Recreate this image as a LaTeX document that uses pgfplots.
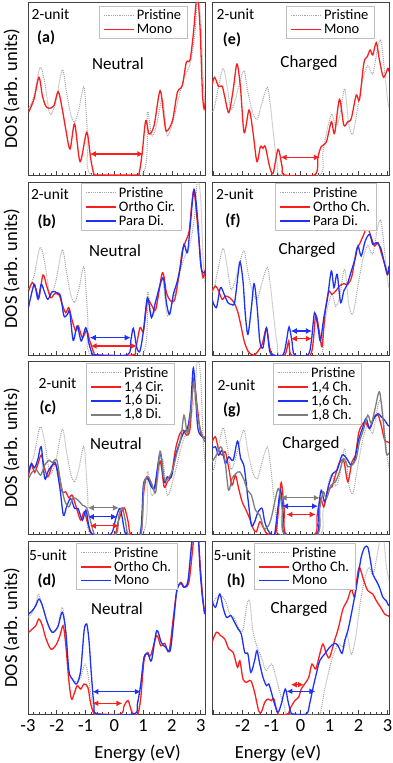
\documentclass[border=0pt]{standalone}
\usepackage{fontspec}
\setmainfont{Carlito}
\usepackage{pgfplots}
\usepackage{pgfplotstable}
\pgfplotsset{compat=1.18}
\usetikzlibrary{arrows.meta}

\definecolor{myred}{RGB}{250,30,30}
\definecolor{myblue}{RGB}{30,50,245}
\definecolor{mygray}{RGB}{125,125,125}
\definecolor{prisgray}{RGB}{165,165,165}

\newcommand\legfont{\fontsize{14.5}{16.5}\selectfont}
\newcommand\unitfont{\fontsize{15.5}{17}\selectfont}
\newcommand\panfont{\fontsize{16}{18}\selectfont\bfseries}
\newcommand\statefont{\fontsize{17}{19}\selectfont}
\newcommand\labfont{\fontsize{18.5}{21}\selectfont}

% legend entries, drawn with explicit styles
\newcommand\legP{\addlegendimage{color=prisgray, densely dotted, line width=1.2pt}\addlegendentry{Pristine}}
\newcommand\legL[2]{\addlegendimage{color=#1, solid, line width=1.6pt}\addlegendentry{#2}}

% pristine DOS, 2-unit neutral (a,b,c)
\pgfplotstableread{
x y
-2.98 198
-2.79 238
-2.58 323
-2.42 278
-2.24 183
-2.04 218
-1.81 316
-1.66 248
-1.52 183
-1.38 158
-1.23 198
-1.05 263
-0.92 108
-0.80 0
0.97 0
1.15 188
1.29 118
1.45 143
1.67 228
1.84 118
2.07 173
2.31 258
2.48 303
2.63 333
2.79 418
2.89 528
3.00 468
3.09 278
3.17 208
}\prisneu

% pristine DOS, 2-unit charged (e,f,g)
\pgfplotstableread{
x y
-3.06 190
-2.99 198
-2.85 258
-2.68 320
-2.56 278
-2.41 198
-2.28 218
-2.10 278
-1.95 313
-1.82 248
-1.64 183
-1.49 168
-1.36 208
-1.15 263
-1.03 198
-0.92 108
-0.80 28
-0.69 0
0.66 0
0.77 68
0.94 146
1.08 183
1.21 146
1.34 173
1.52 258
1.66 153
1.80 123
1.98 208
2.15 288
2.32 328
2.49 303
2.67 388
2.78 400
2.90 308
3.01 218
3.06 200
}\prischg

\pgfplotsset{
  panel/.style={
    scale only axis, width=177pt, height=173pt,
    anchor=north west,
    ymin=0, ymax=519, ytick=\empty,
    xtick={-3,...,3}, minor x tick num=4,
    xtick pos=left, tick align=inside,
    major tick length=4pt, minor tick length=2.5pt,
    xticklabels={},
    axis line style={black!75, line width=0.9pt},
    every tick/.style={black!75, line width=0.7pt},
    clip mode=individual,
    legend cell align=left,
    legend style={draw=black!25, line width=0.9pt, font=\legfont,
      inner xsep=4pt, inner ysep=1.5pt, row sep=-1.5pt, anchor=north west},
    legend image code/.code={\draw[##1] (0pt,0pt) -- (30pt,0pt);},
  },
  lcol/.style={xmin=-3, xmax=3.15},
  rcol/.style={xmin=-3.06, xmax=3.05},
  botl/.style={xticklabels={-3,-2,-1,0,1,2,3}, xticklabel style={font=\labfont}, xticklabel shift=2pt},
  botr/.style={xticklabels={{},-2,-1,0,1,2,3}, xticklabel style={font=\labfont}, xticklabel shift=2pt},
  pris/.style={prisgray, densely dotted, line width=1pt, smooth, tension=0.5, forget plot},
  cur/.style={line width=1.3pt, smooth, tension=0.5, forget plot},
  gap/.style={line width=1.2pt, forget plot, >={Latex[length=6pt,width=6pt]}, <->},
}

\begin{document}
\begin{tikzpicture}
\path[use as bounding box] (0,0) rectangle (392pt,-763pt);

% ---------------- (a)
\begin{axis}[panel, lcol, at={(28pt,-2pt)},
  legend style={at={(axis description cs:0.40,0.977)}}]
\legP \legL{myred}{Mono}
\addplot[pris] table {\prisneu};
\addplot[cur, myred] coordinates {(-2.98,188) (-2.79,228) (-2.62,293) (-2.50,238) (-2.39,208) (-2.27,200) (-2.10,208) (-1.95,250) (-1.81,198) (-1.69,138) (-1.54,78) (-1.38,153) (-1.19,40) (-0.96,128) (-0.82,48) (-0.71,3) (-0.6,0) (0.75,0) (0.86,5) (0.97,68) (1.09,163) (1.21,123) (1.38,148) (1.59,253) (1.73,168) (1.81,131) (2.02,163) (2.19,248) (2.36,268) (2.50,338) (2.63,345) (2.75,428) (2.83,508) (2.89,540) (2.98,438) (3.06,248) (3.12,198) (3.17,228)};
\addplot[gap, myred] coordinates {(-0.85,63) (1.01,63)};
\node[font=\unitfont] at (axis description cs:0.127,0.931) {2-unit};
\node[font=\panfont] at (axis description cs:0.102,0.792) {(a)};
\node[font=\statefont] at (axis description cs:0.508,0.642) {Neutral};
\node[rotate=90, font=\labfont] at (axis description cs:-0.093,0.5) {DOS (arb. units)};
\end{axis}

% ---------------- (e)
\begin{axis}[panel, rcol, at={(212pt,-2pt)},
  legend style={at={(axis description cs:0.418,0.977)}}]
\legP \legL{myred}{Mono}
\addplot[pris] table {\prischg};
\addplot[cur, myred] coordinates {(-3.06,270) (-2.97,293) (-2.83,265) (-2.71,267) (-2.62,235) (-2.48,187) (-2.33,255) (-2.20,333) (-2.08,265) (-1.95,127) (-1.78,195) (-1.64,125) (-1.51,40) (-1.39,85) (-1.30,80) (-1.22,85) (-1.07,25) (-0.95,5) (-0.78,77) (-0.64,25) (-0.55,0) (0.48,0) (0.60,55) (0.71,85) (0.89,100) (1.06,160) (1.17,125) (1.34,227) (1.49,150) (1.63,160) (1.75,170) (1.92,240) (2.03,225) (2.18,335) (2.30,355) (2.40,375) (2.49,360) (2.61,397) (2.72,345) (2.86,293) (3.01,320) (3.05,310)};
\addplot[gap, myred] coordinates {(-0.69,53) (0.66,53)};
\node[font=\unitfont] at (axis description cs:0.133,0.931) {2-unit};
\node[font=\panfont] at (axis description cs:0.113,0.780) {(e)};
\node[font=\statefont] at (axis description cs:0.548,0.647) {Charged};
\end{axis}

% ---------------- (b)
\begin{axis}[panel, lcol, at={(28pt,-182pt)},
  legend style={at={(axis description cs:0.299,0.994)}}]
\legP \legL{myred}{Ortho Cir.} \legL{myblue}{Para Di.}
\addplot[pris] table {\prisneu};
\addplot[cur, myred] coordinates {(-2.98,192) (-2.85,217) (-2.72,197) (-2.62,172) (-2.48,240) (-2.35,207) (-2.21,172) (-2.07,184) (-1.92,180) (-1.81,152) (-1.69,127) (-1.58,142) (-1.46,102) (-1.34,72) (-1.25,87) (-1.11,52) (-0.96,74) (-0.85,42) (-0.71,7) (-0.59,0) (0.63,0) (0.74,17) (0.89,82) (1.01,72) (1.15,162) (1.29,150) (1.44,137) (1.67,247) (1.81,187) (1.96,162) (2.10,167) (2.25,242) (2.36,312) (2.48,342) (2.60,372) (2.69,452) (2.77,492) (2.89,392) (3.00,282) (3.08,232) (3.16,257)};
\addplot[cur, myblue] coordinates {(-2.98,144) (-2.87,187) (-2.77,212) (-2.65,167) (-2.54,212) (-2.42,187) (-2.31,167) (-2.16,190) (-2.00,187) (-1.87,177) (-1.75,117) (-1.63,122) (-1.55,130) (-1.43,44) (-1.29,87) (-1.15,42) (-0.99,82) (-0.88,34) (-0.76,2) (-0.65,0) (0.45,0) (0.57,42) (0.66,80) (0.78,22) (0.89,12) (1.01,72) (1.15,172) (1.29,112) (1.44,162) (1.69,232) (1.81,157) (1.92,122) (2.05,182) (2.19,222) (2.31,272) (2.42,332) (2.54,307) (2.65,402) (2.77,497) (2.89,412) (3.00,272) (3.08,247) (3.15,250)};
\addplot[gap, myblue] coordinates {(-0.85,52) (0.57,52)};
\addplot[gap, myred] coordinates {(-0.82,27) (0.78,27)};
\node[font=\unitfont] at (axis description cs:0.124,0.931) {2-unit};
\node[font=\panfont] at (axis description cs:0.107,0.769) {(b)};
\node[font=\statefont] at (axis description cs:0.492,0.601) {Neutral};
\node[rotate=90, font=\labfont] at (axis description cs:-0.093,0.5) {DOS (arb. units)};
\end{axis}

% ---------------- (f)
\begin{axis}[panel, rcol, at={(212pt,-182pt)},
  legend style={at={(axis description cs:0.356,0.994)}}]
\legP \legL{myred}{Ortho Ch.} \legL{myblue}{Para Di.}
\addplot[pris] table {\prischg};
\addplot[cur, myred] coordinates {(-3.06,192) (-2.94,207) (-2.83,192) (-2.71,167) (-2.60,177) (-2.45,172) (-2.30,157) (-2.18,132) (-2.07,92) (-1.95,42) (-1.82,12) (-1.70,2) (-1.59,0) (-1.47,12) (-1.33,32) (-1.18,80) (-1.07,22) (-0.95,0) (-0.55,0) (-0.41,42) (-0.32,0) (0.34,0) (0.52,117) (0.66,62) (0.74,25) (0.85,132) (0.97,190) (1.08,182) (1.23,194) (1.34,207) (1.49,214) (1.63,212) (1.77,237) (1.92,312) (2.03,332) (2.18,362) (2.30,384) (2.44,352) (2.55,327) (2.67,337) (2.78,307) (2.92,267) (3.01,242) (3.05,262)};
\addplot[cur, myblue] coordinates {(-3.06,167) (-2.91,142) (-2.77,202) (-2.64,182) (-2.51,157) (-2.39,152) (-2.28,157) (-2.16,242) (-2.09,280) (-1.99,222) (-1.91,122) (-1.82,62) (-1.70,142) (-1.61,214) (-1.51,152) (-1.41,42) (-1.30,22) (-1.18,82) (-1.07,12) (-0.95,0) (-0.61,0) (-0.49,42) (-0.40,84) (-0.30,42) (-0.21,0) (0.25,0) (0.37,42) (0.48,127) (0.60,82) (0.68,42) (0.80,112) (0.92,167) (1.06,252) (1.15,202) (1.26,242) (1.38,157) (1.49,192) (1.61,212) (1.75,252) (1.89,292) (1.98,327) (2.09,297) (2.23,342) (2.38,362) (2.49,332) (2.61,337) (2.76,322) (2.90,272) (2.99,242) (3.05,267)};
\addplot[gap, myblue] coordinates {(-0.34,72) (0.39,72)};
\addplot[gap, myred] coordinates {(-0.34,49) (0.39,49)};
\node[font=\unitfont] at (axis description cs:0.130,0.931) {2-unit};
\node[font=\panfont] at (axis description cs:0.119,0.775) {(f)};
\node[font=\statefont] at (axis description cs:0.537,0.607) {Charged};
\end{axis}

% ---------------- (c)
\begin{axis}[panel, lcol, at={(28pt,-361.5pt)},
  legend style={at={(axis description cs:0.328,0.991)}}]
\legP \legL{myred}{1,4 Cir.} \legL{myblue}{1,6 Di.} \legL{mygray}{1,8 Di.}
\addplot[pris] table {\prisneu};
\addplot[cur, myred] coordinates {(-2.98,178) (-2.88,210) (-2.77,186) (-2.65,213) (-2.54,238) (-2.42,198) (-2.31,173) (-2.16,206) (-2.04,210) (-1.92,178) (-1.81,128) (-1.69,128) (-1.58,110) (-1.46,118) (-1.31,78) (-1.17,43) (-1.05,68) (-0.94,38) (-0.82,8) (-0.71,0) (-0.01,0) (0.13,38) (0.34,80) (0.48,38) (0.57,0) (0.92,0) (1.01,118) (1.12,173) (1.26,158) (1.40,138) (1.59,220) (1.73,143) (1.84,158) (1.98,178) (2.13,258) (2.28,303) (2.40,313) (2.51,298) (2.63,318) (2.75,468) (2.86,398) (3.00,303) (3.14,293)};
\addplot[cur, myblue] coordinates {(-2.98,188) (-2.88,213) (-2.77,200) (-2.65,228) (-2.54,263) (-2.42,168) (-2.31,188) (-2.16,208) (-2.04,213) (-1.89,138) (-1.77,58) (-1.66,83) (-1.52,108) (-1.38,78) (-1.26,78) (-1.11,43) (-0.99,73) (-0.88,23) (-0.76,0) (-0.13,0) (0.05,48) (0.20,78) (0.34,18) (0.43,0) (0.89,0) (1.01,148) (1.15,168) (1.29,143) (1.40,143) (1.59,243) (1.73,158) (1.84,173) (1.98,173) (2.13,238) (2.28,278) (2.42,308) (2.54,318) (2.65,378) (2.75,500) (2.89,328) (3.00,298) (3.14,288)};
\addplot[cur, mygray] coordinates {(-2.98,168) (-2.85,188) (-2.70,193) (-2.56,178) (-2.42,208) (-2.27,223) (-2.16,216) (-2.00,223) (-1.87,158) (-1.73,103) (-1.58,83) (-1.43,110) (-1.26,103) (-1.11,88) (-0.96,80) (-0.82,38) (-0.71,3) (-0.61,0) (0.05,0) (0.16,58) (0.28,80) (0.39,38) (0.49,0) (0.92,0) (1.03,148) (1.17,173) (1.32,148) (1.44,128) (1.59,250) (1.73,168) (1.87,168) (2.02,193) (2.17,243) (2.31,288) (2.42,358) (2.54,303) (2.65,363) (2.77,458) (2.89,358) (3.00,313) (3.14,278)};
\addplot[gap, mygray] coordinates {(-0.92,80) (0.16,80)};
\addplot[gap, myblue] coordinates {(-0.92,53) (0.10,53)};
\addplot[gap, myred] coordinates {(-0.85,26) (0.16,26)};
\node[font=\unitfont] at (axis description cs:0.167,0.876) {2-unit};
\node[font=\panfont] at (axis description cs:0.113,0.731) {(c)};
\node[font=\statefont] at (axis description cs:0.497,0.523) {Neutral};
\node[rotate=90, font=\labfont] at (axis description cs:-0.093,0.5) {DOS (arb. units)};
\end{axis}

% ---------------- (g)
\begin{axis}[panel, rcol, at={(212pt,-361.5pt)},
  legend style={at={(axis description cs:0.345,0.991)}}]
\legP \legL{myred}{1,4 Ch.} \legL{myblue}{1,6 Ch.} \legL{mygray}{1,8 Ch.}
\addplot[pris] table {\prischg};
\addplot[cur, myred] coordinates {(-3.06,278) (-2.94,293) (-2.83,253) (-2.71,238) (-2.60,248) (-2.48,198) (-2.37,148) (-2.25,178) (-2.14,138) (-2.02,98) (-1.91,78) (-1.76,48) (-1.64,18) (-1.53,8) (-1.41,38) (-1.30,23) (-1.18,3) (-1.07,0) (-0.87,0) (-0.76,78) (-0.67,156) (-0.57,78) (-0.49,0) (0.48,0) (0.57,58) (0.69,108) (0.80,83) (0.94,133) (1.08,143) (1.20,178) (1.34,216) (1.49,220) (1.63,158) (1.77,218) (1.89,238) (2.00,303) (2.11,328) (2.23,338) (2.38,318) (2.53,353) (2.67,358) (2.78,328) (2.90,283) (3.01,278) (3.05,275)};
\addplot[cur, myblue] coordinates {(-3.06,258) (-2.94,263) (-2.83,238) (-2.71,253) (-2.60,213) (-2.48,233) (-2.33,223) (-2.18,280) (-2.07,228) (-1.95,203) (-1.82,108) (-1.70,28) (-1.59,38) (-1.47,68) (-1.33,78) (-1.24,38) (-1.13,13) (-1.01,0) (-0.90,0) (-0.78,83) (-0.69,133) (-0.60,58) (-0.53,0) (0.54,0) (0.62,78) (0.71,133) (0.83,98) (0.97,148) (1.11,183) (1.26,193) (1.43,238) (1.59,228) (1.74,208) (1.86,223) (2.00,283) (2.15,323) (2.26,348) (2.38,318) (2.53,348) (2.67,363) (2.78,353) (2.90,343) (3.01,328) (3.05,325)};
\addplot[cur, mygray] coordinates {(-3.06,218) (-2.91,238) (-2.76,263) (-2.62,228) (-2.49,133) (-2.37,168) (-2.23,183) (-2.10,188) (-1.95,163) (-1.84,133) (-1.70,118) (-1.56,73) (-1.41,58) (-1.26,18) (-1.10,28) (-0.99,58) (-0.87,108) (-0.76,138) (-0.64,78) (-0.55,0) (0.57,0) (0.66,78) (0.78,128) (0.89,108) (1.05,148) (1.20,158) (1.34,188) (1.49,228) (1.63,203) (1.77,208) (1.92,228) (2.03,278) (2.18,318) (2.32,358) (2.44,333) (2.57,378) (2.72,428) (2.84,348) (2.95,248) (3.01,240) (3.05,245)};
\addplot[gap, mygray] coordinates {(-0.69,110) (0.66,110)};
\addplot[gap, myblue] coordinates {(-0.64,85) (0.60,85)};
\addplot[gap, myred] coordinates {(-0.49,60) (0.52,60)};
\node[font=\unitfont] at (axis description cs:0.138,0.864) {2-unit};
\node[font=\panfont] at (axis description cs:0.113,0.720) {(g)};
\node[font=\statefont] at (axis description cs:0.559,0.523) {Charged};
\end{axis}

% ---------------- (d)
\begin{axis}[panel, lcol, botl, at={(28pt,-541pt)},
  legend style={at={(axis description cs:0.271,0.988)}}]
\legP \legL{myred}{Ortho Ch.} \legL{myblue}{Mono}
\addplot[pris] coordinates {(-2.98,290) (-2.85,305) (-2.73,330) (-2.64,360) (-2.52,330) (-2.33,275) (-2.16,248) (-1.97,262) (-1.81,320) (-1.69,250) (-1.58,130) (-1.46,105) (-1.31,95) (-1.17,110) (-1.02,150) (-0.92,120) (-0.82,60) (-0.71,10) (-0.6,0) (0.7,0) (0.82,40) (0.94,110) (1.05,175) (1.17,178) (1.30,165) (1.47,245) (1.63,212) (1.80,200) (1.94,192) (2.06,275) (2.18,372) (2.31,395) (2.43,382) (2.56,405) (2.70,530) (2.90,530) (2.99,440) (3.06,355) (3.14,305)};
\addplot[cur, myred] coordinates {(-2.98,245) (-2.85,255) (-2.73,265) (-2.62,285) (-2.50,265) (-2.39,230) (-2.21,195) (-2.04,205) (-1.89,235) (-1.78,265) (-1.69,210) (-1.58,100) (-1.49,45) (-1.40,60) (-1.29,85) (-1.17,75) (-1.05,90) (-0.92,80) (-0.82,30) (-0.71,2) (-0.59,0) (0.22,0) (0.34,25) (0.48,40) (0.59,10) (0.68,0) (0.82,0) (0.92,50) (1.03,160) (1.15,185) (1.26,175) (1.47,235) (1.61,205) (1.75,212) (1.90,188) (2.05,290) (2.17,370) (2.31,395) (2.44,380) (2.60,400) (2.77,530) (2.90,540) (2.98,450) (3.06,360) (3.14,300)};
\addplot[cur, myblue] coordinates {(-2.98,300) (-2.85,310) (-2.73,325) (-2.62,345) (-2.50,325) (-2.33,275) (-2.16,245) (-1.97,260) (-1.81,305) (-1.69,250) (-1.58,130) (-1.46,105) (-1.31,90) (-1.17,130) (-1.05,250) (-0.96,270) (-0.88,220) (-0.80,120) (-0.71,30) (-0.59,0) (0.68,0) (0.80,30) (0.92,90) (1.03,170) (1.17,180) (1.29,160) (1.47,250) (1.63,215) (1.78,200) (1.94,190) (2.05,270) (2.17,370) (2.31,392) (2.42,380) (2.56,400) (2.72,530) (2.90,540) (2.98,430) (3.06,350) (3.14,300)};
\addplot[gap, myblue] coordinates {(-0.76,67) (0.92,67)};
\addplot[gap, myred] coordinates {(-0.76,32) (0.28,32)};
\node[font=\unitfont] at (axis description cs:0.113,0.919) {5-unit};
\node[font=\panfont] at (axis description cs:0.107,0.769) {(d)};
\node[font=\statefont] at (axis description cs:0.503,0.607) {Neutral};
\node[rotate=90, font=\labfont] at (axis description cs:-0.093,0.5) {DOS (arb. units)};
\node[font=\labfont] at (axis description cs:0.619,-0.225) {Energy (eV)};
\end{axis}

% ---------------- (h)
\begin{axis}[panel, rcol, botr, at={(212pt,-541pt)},
  legend style={at={(axis description cs:0.237,0.988)}}]
\legP \legL{myred}{Ortho Ch.} \legL{myblue}{Mono}
\addplot[pris] coordinates {(-3.06,330) (-2.90,350) (-2.75,355) (-2.60,340) (-2.45,300) (-2.30,290) (-2.15,260) (-2.00,250) (-1.85,330) (-1.75,335) (-1.65,250) (-1.50,200) (-1.35,170) (-1.20,130) (-1.00,150) (-0.85,110) (-0.70,60) (-0.55,20) (-0.45,0) (0.60,0) (0.70,10) (0.80,60) (0.95,120) (1.10,170) (1.30,210) (1.50,200) (1.60,240) (1.75,180) (1.90,230) (2.05,330) (2.20,400) (2.35,440) (2.50,420) (2.65,480) (2.75,530) (2.85,540) (2.95,450) (3.05,400)};
\addplot[cur, myred] coordinates {(-3.06,215) (-2.91,245) (-2.76,235) (-2.62,225) (-2.48,195) (-2.33,185) (-2.18,140) (-2.10,160) (-1.99,105) (-1.87,95) (-1.72,100) (-1.59,65) (-1.45,10) (-1.36,5) (-1.24,35) (-1.13,45) (-1.01,40) (-0.92,45) (-0.78,0) (-0.45,0) (-0.34,20) (-0.20,40) (-0.07,50) (0.02,75) (0.14,90) (0.28,110) (0.39,150) (0.52,135) (0.66,180) (0.77,210) (0.89,180) (1.00,170) (1.17,220) (1.31,260) (1.46,315) (1.61,340) (1.75,375) (1.86,350) (1.95,410) (2.03,440) (2.18,400) (2.32,370) (2.49,360) (2.61,340) (2.76,320) (2.90,300) (3.01,295) (3.05,293)};
\addplot[cur, myblue] coordinates {(-3.06,340) (-2.94,320) (-2.79,360) (-2.68,320) (-2.56,290) (-2.41,295) (-2.28,275) (-2.16,255) (-2.05,240) (-1.93,185) (-1.82,180) (-1.72,125) (-1.59,160) (-1.51,190) (-1.41,150) (-1.30,110) (-1.18,85) (-1.10,90) (-1.01,65) (-0.90,30) (-0.78,5) (-0.67,30) (-0.53,75) (-0.44,40) (-0.34,5) (-0.26,0) (0.20,0) (0.31,30) (0.43,80) (0.54,120) (0.66,160) (0.83,180) (1.00,200) (1.17,212) (1.29,205) (1.43,182) (1.52,220) (1.63,250) (1.75,300) (1.86,350) (1.98,410) (2.09,470) (2.21,500) (2.32,500) (2.41,460) (2.49,420) (2.61,400) (2.72,380) (2.84,350) (2.95,340) (3.01,330) (3.05,325)};
\addplot[gap, myblue] coordinates {(-0.49,68) (0.51,68)};
\addplot[gap, myred] coordinates {(-0.34,88) (0.11,88)};
\node[font=\unitfont] at (axis description cs:0.116,0.919) {5-unit};
\node[font=\panfont] at (axis description cs:0.136,0.769) {(h)};
\node[font=\statefont] at (axis description cs:0.492,0.607) {Charged};
\node[font=\labfont] at (axis description cs:0.373,-0.225) {Energy (eV)};
\end{axis}
\end{tikzpicture}
\end{document}
